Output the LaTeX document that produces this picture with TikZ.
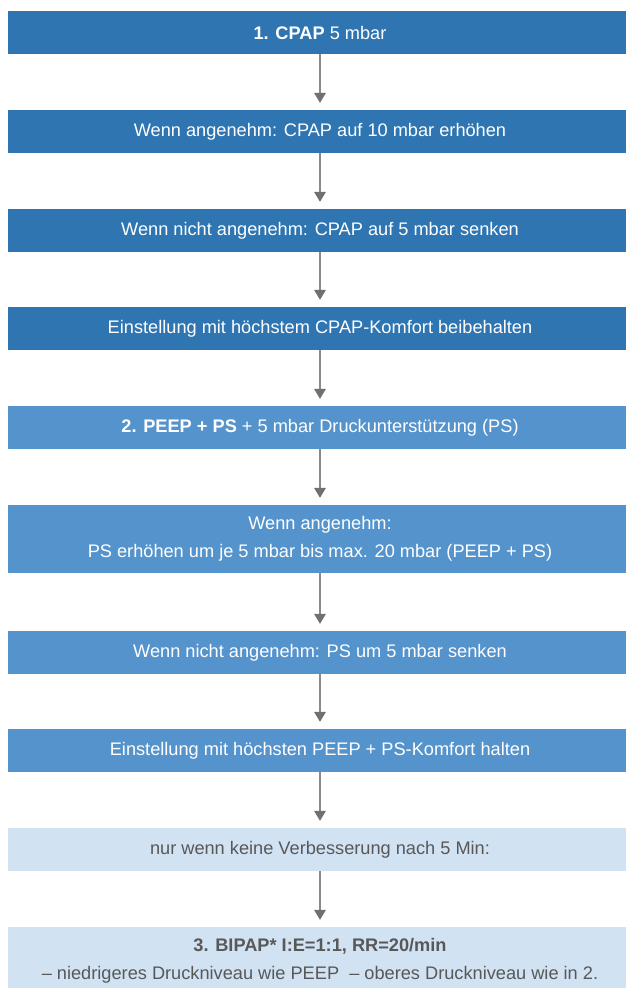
\documentclass[tikz,border=0pt]{standalone}
\usepackage{fontspec}
\setmainfont{Liberation Sans}
\usetikzlibrary{arrows.meta}
\definecolor{dblue}{HTML}{2E75B1}
\definecolor{mblue}{HTML}{5593CC}
\definecolor{lblue}{HTML}{D1E2F3}
\definecolor{ltext}{HTML}{585858}
\definecolor{arrgray}{HTML}{8A8A8A}
\definecolor{tipgray}{HTML}{707070}
\begin{document}
\begin{tikzpicture}[x=1pt,y=-1pt,
  box/.style={minimum width=624pt, minimum height=43pt, inner sep=0pt, align=center,
    font=\fontsize{18.2}{25}\selectfont},
  darkbox/.style={box, fill=dblue, text=white},
  midbox/.style={box, fill=mblue, text=white},
  lightbox/.style={box, fill=lblue, text=ltext},
  arr/.style={draw=arrgray, line width=1.6pt, -{Triangle[width=12pt,length=10pt,color=tipgray,fill=tipgray,line width=0pt]}}
]
\useasboundingbox (0,0) rectangle (626,988);
\clip (0,0) rectangle (626,988);
\node[darkbox] (b1) at (320,32.5) {\textbf{1. CPAP} 5 mbar};
\node[darkbox] (b2) at (320,131.5) {Wenn angenehm: CPAP auf 10 mbar erhöhen};
\node[darkbox] (b3) at (320,230.5) {Wenn nicht angenehm: CPAP auf 5 mbar senken};
\node[darkbox] (b4) at (320,328.5) {Einstellung mit höchstem CPAP-Komfort beibehalten};
\node[midbox] (b5) at (320,427.5) {\textbf{2. PEEP + PS} + 5 mbar Druckunterstützung (PS)};
\node[midbox, minimum height=68pt] (b6) at (320,539) {Wenn angenehm:\\[3pt]PS erhöhen um je 5 mbar bis max. 20 mbar (PEEP + PS)};
\node[midbox] (b7) at (320,652.5) {Wenn nicht angenehm: PS um 5 mbar senken};
\node[midbox] (b8) at (320,750.5) {Einstellung mit höchsten PEEP + PS-Komfort halten};
\node[lightbox] (b9) at (320,849.5) {nur wenn keine Verbesserung nach 5 Min:};
\node[lightbox, minimum height=68pt] (b10) at (320,961) {\textbf{3. BIPAP* I:E=1:1, RR=20/min}\\[3pt]– niedrigeres Druckniveau wie PEEP\ \ – oberes Druckniveau wie in 2.};
\draw[arr] (b1) -- ([yshift=7pt]b2.north);
\draw[arr] (b2) -- ([yshift=7pt]b3.north);
\draw[arr] (b3) -- ([yshift=7pt]b4.north);
\draw[arr] (b4) -- ([yshift=7pt]b5.north);
\draw[arr] (b5) -- ([yshift=7pt]b6.north);
\draw[arr] (b6) -- ([yshift=7pt]b7.north);
\draw[arr] (b7) -- ([yshift=7pt]b8.north);
\draw[arr] (b8) -- ([yshift=7pt]b9.north);
\draw[arr] (b9) -- ([yshift=7pt]b10.north);
\end{tikzpicture}
\end{document}
